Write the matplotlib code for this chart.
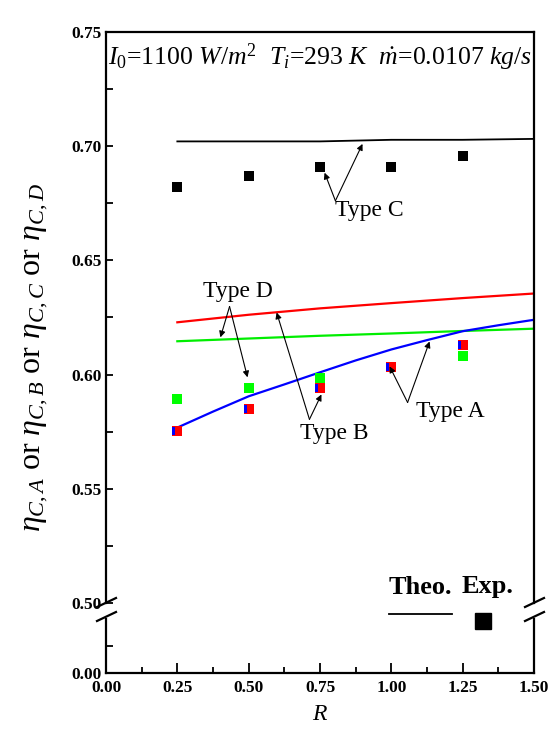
import numpy as np
import matplotlib
matplotlib.use("Agg")
import matplotlib.pyplot as plt
from matplotlib.lines import Line2D

plt.rcParams['font.family'] = ['Liberation Serif', 'DejaVu Serif']
plt.rcParams['mathtext.fontset'] = 'custom'
plt.rcParams['mathtext.rm'] = 'Liberation Serif'
plt.rcParams['mathtext.it'] = 'Liberation Serif:italic'
plt.rcParams['mathtext.bf'] = 'Liberation Serif:bold'

# ratio R
r_vals = [0.25, 0.5, 0.75, 1.0, 1.25, 1.5]
r_fine = [0.25, 0.375, 0.5, 0.625, 0.75, 0.875, 1.0, 1.125, 1.25, 1.375, 1.5]
r_exp = [0.25, 0.5, 0.75, 1.0, 1.25]
r_exp_d = [0.25, 0.5, 0.75, 1.25]

# theoretical curves
theo_a = [0.5768, 0.5838, 0.5905, 0.5957, 0.6010, 0.6062, 0.6110, 0.6151,
          0.6190, 0.6216, 0.6240]
theo_b = [0.6229, 0.6262, 0.6290, 0.6313, 0.6335, 0.6355]
theo_c = [0.7021, 0.7021, 0.7021, 0.7028, 0.7028, 0.7032]
theo_d = [0.6146, 0.6158, 0.6170, 0.6180, 0.6191, 0.6201]

# experiments
exp_ab = [0.5755, 0.5848, 0.5943, 0.6033, 0.6128]
exp_c = [0.6820, 0.6868, 0.6911, 0.6911, 0.6959]
exp_d = [0.5895, 0.5943, 0.5986, 0.6081]

W, H = 550, 736
fig = plt.figure(figsize=(W / 100, H / 100), dpi=100)

def fx(px):
    return px / W

def fy(py):
    return 1 - py / H

left, right = 106, 534
ax = fig.add_axes([fx(left), fy(603), (right - left) / W, (603 - 32) / H])
axb = fig.add_axes([fx(left), fy(673), (right - left) / W, (673 - 619) / H])

# theory lines
ax.plot(r_vals, theo_c, color='black', lw=1.3)
ax.plot(r_vals, theo_b, color='#ff0000', lw=1.6)
ax.plot(r_vals, theo_d, color='#00ee00', lw=1.6)
ax.plot(r_fine, theo_a, color='#0000ff', lw=1.6)

# experimental points
ms = 7.6
ax.plot(r_exp, exp_c, 's', color='black', ms=7.2, mew=0)
ax.plot(r_exp_d, exp_d, 's', color='#00ff00', ms=ms, mew=0)
ax.plot(r_exp, exp_ab, 's', color='#ff0000', ms=ms, mew=0)
stripe = [(-1, -0.75), (-0.35, -0.75), (-0.35, 0.75), (-1, 0.75), (-1, -0.75)]
ax.plot(r_exp, exp_ab, ls='none', marker=stripe, color='#0000ff', ms=ms, mew=0)

ax.set_xlim(0, 1.5)
ax.set_ylim(0.50, 0.75)
axb.set_xlim(0, 1.5)
axb.set_ylim(0, 0.1)

# spines / ticks
for a in (ax, axb):
    for s in a.spines.values():
        s.set_linewidth(1.6)
ax.spines['bottom'].set_visible(False)
axb.spines['top'].set_visible(False)

ax.set_yticks([0.50, 0.55, 0.60, 0.65, 0.70, 0.75])
ax.set_yticks(np.arange(0.525, 0.75, 0.05), minor=True)
ax.set_yticklabels(['0.50', '0.55', '0.60', '0.65', '0.70', '0.75'])
ax.set_xticks([])
ax.tick_params(axis='y', which='both', direction='in', length=5, width=1.3,
               labelsize=12.5, pad=3)
for t in ax.get_yticklabels():
    t.set_fontweight('bold')

axb.set_yticks([0.0])
axb.set_yticklabels(['0.00'])
axb.set_yticks([0.05], minor=True)
axb.set_xticks([0, 0.25, 0.5, 0.75, 1.0, 1.25, 1.5])
axb.set_xticklabels(['0.00', '0.25', '0.50', '0.75', '1.00', '1.25', '1.50'])
axb.set_xticks(np.arange(0.125, 1.5, 0.25), minor=True)
axb.tick_params(axis='y', which='both', direction='in', length=5, width=1.3,
                labelsize=12.5, pad=3)
axb.tick_params(axis='x', which='major', direction='in', length=7, width=1.3,
                labelsize=12.5, pad=5)
axb.tick_params(axis='x', which='minor', direction='in', length=4.5, width=1.3)
for t in axb.get_xticklabels() + axb.get_yticklabels():
    t.set_fontweight('bold')

# axis break marks
for bx in (left - 9, right - 9):
    for y0 in (607, 621):
        fig.add_artist(Line2D([fx(bx), fx(bx + 19)], [fy(y0), fy(y0 - 9)],
                              transform=fig.transFigure, color='black', lw=1.6))

axb.set_xlabel('$R$', fontsize=17, labelpad=6)
fig.text(fx(36), 0.5 * (fy(183) + fy(533)),
         r'$\eta_{C,A}$ or $\eta_{C,B}$ or $\eta_{C,C}$ or $\eta_{C,D}$',
         rotation=90, ha='center', va='center', fontsize=23)

ax.text(0.5, 0.955, r'$I_0$=1100 $W/m^2$  $T_i$=293 $K$  $\dot{m}$=0.0107 $kg/s$',
        transform=ax.transAxes, ha='center', va='center', fontsize=18.5)

# annotations
arw = dict(arrowstyle='-|>', color='black', lw=0.8, mutation_scale=9,
           shrinkA=0, shrinkB=0)
ax.text(0.923, 0.6718, 'Type C', ha='center', va='center', fontsize=17)
ax.annotate('', xy=(0.766, 0.6884), xytext=(0.804, 0.6761), arrowprops=arw)
ax.annotate('', xy=(0.899, 0.7010), xytext=(0.804, 0.6761), arrowprops=arw)

ax.text(0.461, 0.6364, 'Type D', ha='center', va='center', fontsize=17)
ax.annotate('', xy=(0.401, 0.6163), xytext=(0.433, 0.6298), arrowprops=arw)
ax.annotate('', xy=(0.496, 0.5988), xytext=(0.433, 0.6298), arrowprops=arw)

ax.text(0.801, 0.5743, 'Type B', ha='center', va='center', fontsize=17)
ax.annotate('', xy=(0.598, 0.6272), xytext=(0.713, 0.5804), arrowprops=arw)
ax.annotate('', xy=(0.755, 0.5913), xytext=(0.713, 0.5804), arrowprops=arw)

ax.text(1.208, 0.5839, 'Type A', ha='center', va='center', fontsize=17)
ax.annotate('', xy=(0.994, 0.6036), xytext=(1.057, 0.5878), arrowprops=arw)
ax.annotate('', xy=(1.134, 0.6145), xytext=(1.057, 0.5878), arrowprops=arw)

# legend in the break
fig.text(fx(420), fy(587), 'Theo.', ha='center', va='center', fontsize=19,
         fontweight='bold')
fig.text(fx(488), fy(587), 'Exp.', ha='center', va='center', fontsize=19,
         fontweight='bold')
fig.add_artist(Line2D([fx(389), fx(452)], [fy(614), fy(614)],
                      transform=fig.transFigure, color='black', lw=1.3))
fig.add_artist(Line2D([fx(483)], [fy(621)], transform=fig.transFigure,
                      marker='s', color='black', ms=12, ls='none'))

fig.savefig('out.png', dpi=100)
